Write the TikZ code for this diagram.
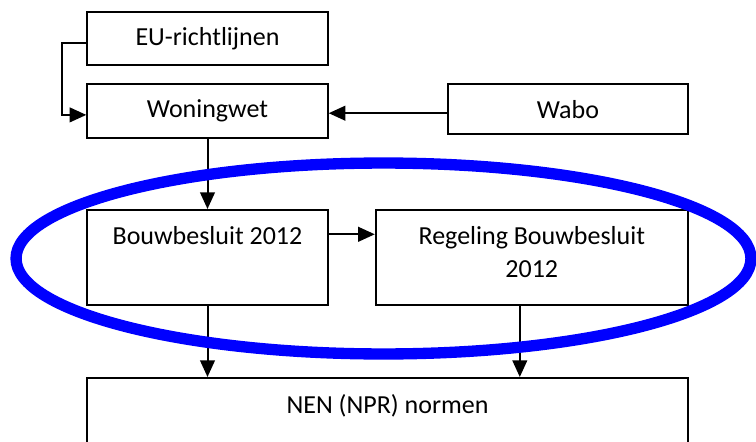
\documentclass[tikz,border=0pt]{standalone}
\usepackage{fontspec}
\setmainfont{Carlito}
\usetikzlibrary{arrows.meta}
\begin{document}
\begin{tikzpicture}[x=0.75pt,y=-0.75pt,
  box/.style={draw=black, line width=1.5pt, rectangle, inner sep=0pt, minimum width=180.3pt},
  lbl/.style={font=\fontsize{19.5pt}{24.75pt}\selectfont, inner sep=0pt, align=center},
  arr/.style={draw=black, line width=1.5pt, -{Triangle[length=12.5pt,width=11pt]}},
  ring/.style={draw={rgb,255:red,0;green,0;blue,255}, line width=8.5pt}]
\clip (0,0) rectangle (756,442);
\fill[white] (0,0) rectangle (756,442);
% boxes
\node[box, minimum height=39.5pt, lbl] (eu) at (207.5,38.7) {EU-richtlijnen};
\node[box, minimum height=40.3pt, lbl] (woning) at (207.5,110.9) {Woningwet};
\node[box, minimum width=180.5pt, minimum height=37.7pt, lbl] (wabo) at (568,109.2) {Wabo};
\node[box, minimum height=71.25pt] (bouw) at (207.5,257.5) {};
\node[box, minimum width=234pt, minimum height=71.25pt] (reg) at (531.8,257.5) {};
\node[box, minimum width=450.3pt, minimum height=69pt] (nen) at (387.5,424) {};
% top-aligned texts
\node[lbl, anchor=base] (bouwt) at ([yshift=-26.8pt]bouw.north) {Bouwbesluit 2012};
\node[lbl, anchor=base] (regt) at ([yshift=-51.3pt]reg.north) {Regeling Bouwbesluit\\2012};
\node[lbl, anchor=base] (nent) at ([yshift=-27pt]nen.north) {NEN (NPR) normen};
% connectors
\draw[arr] ([yshift=-3.5pt]eu.west) -- ++(-24,0) |- ([yshift=-3pt]woning.west);
\draw[arr] ([yshift=-3pt]wabo.west) -- ([yshift=-3pt]wabo.west -| woning.east);
\draw[arr] (woning.south) -- (bouw.north);
\draw[arr] ([yshift=17.4pt]bouw.east) -- ([yshift=17.4pt]bouw.east -| reg.west);
\draw[arr] (bouw.south) -- (bouw.south |- nen.north);
\draw[arr] ([xshift=-9pt]reg.south) -- ([xshift=-9pt]reg.south |- nen.north);
% ellipse
\draw[ring] (383.5,258.5) ellipse [x radius=275.6pt, y radius=71.6pt];
\end{tikzpicture}
\end{document}
